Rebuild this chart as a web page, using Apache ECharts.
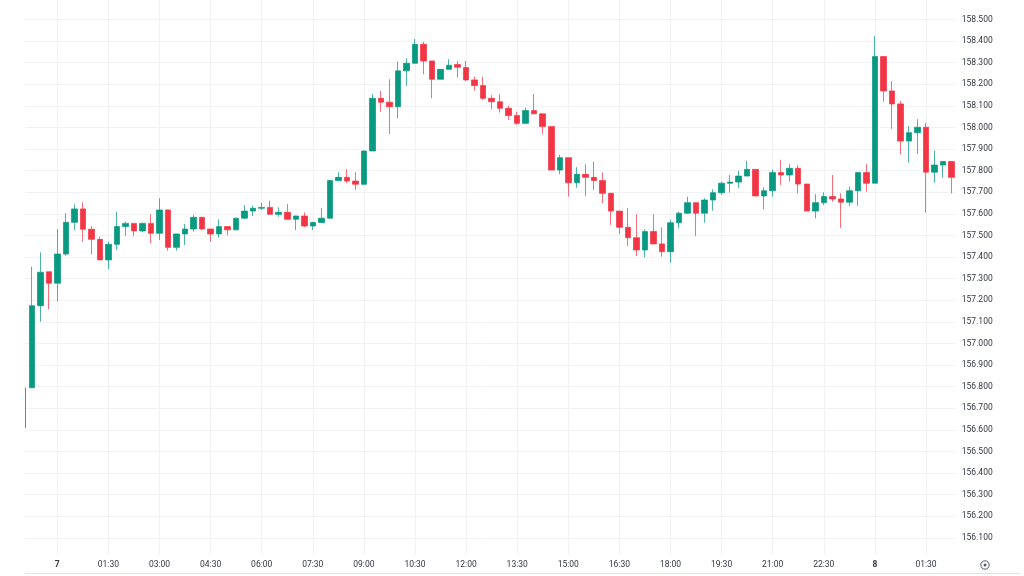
<!DOCTYPE html>
<html>
<head>
<meta charset="utf-8">
<style>
html,body{margin:0;padding:0;background:#fff;}
#chart{width:1024px;height:576px;}
</style>
<script src="https://cdn.jsdelivr.net/npm/echarts@6/dist/echarts.min.js"></script>
</head>
<body>
<div id="chart"></div>
<script>
// 15-minute candles, from 23:00 (day 6) to 02:15 (day 8)
const categories = [
  "23:00","23:15","23:30","23:45",
  "00:00","00:15","00:30","00:45","01:00","01:15","01:30","01:45","02:00","02:15","02:30","02:45",
  "03:00","03:15","03:30","03:45","04:00","04:15","04:30","04:45","05:00","05:15","05:30","05:45",
  "06:00","06:15","06:30","06:45","07:00","07:15","07:30","07:45","08:00","08:15","08:30","08:45",
  "09:00","09:15","09:30","09:45","10:00","10:15","10:30","10:45","11:00","11:15","11:30","11:45",
  "12:00","12:15","12:30","12:45","13:00","13:15","13:30","13:45","14:00","14:15","14:30","14:45",
  "15:00","15:15","15:30","15:45","16:00","16:15","16:30","16:45","17:00","17:15","17:30","17:45",
  "18:00","18:15","18:30","18:45","19:00","19:15","19:30","19:45","20:00","20:15","20:30","20:45",
  "21:00","21:15","21:30","21:45","22:00","22:15","22:30","22:45","23:00","23:15","23:30","23:45",
  "00:00","00:15","00:30","00:45","01:00","01:15","01:30","01:45","02:00","02:15"
];

const openP = [
  156.610,156.795,157.175,157.332,157.279,157.414,157.561,157.623,157.529,157.482,
  157.387,157.459,157.541,157.556,157.521,157.556,157.510,157.618,157.445,157.507,
  157.530,157.584,157.530,157.507,157.541,157.526,157.580,157.613,157.626,157.630,
  157.598,157.607,157.575,157.590,157.544,157.560,157.580,157.754,157.769,157.752,
  157.737,157.891,158.135,158.117,158.096,158.262,158.297,158.385,158.308,158.223,
  158.269,158.291,158.277,158.220,158.194,158.135,158.119,158.089,158.055,158.019,
  158.078,158.063,158.004,157.803,157.860,157.744,157.783,157.769,157.754,157.695,
  157.613,157.538,157.490,157.433,157.518,157.461,157.425,157.559,157.603,157.652,
  157.603,157.664,157.698,157.742,157.747,157.775,157.806,157.683,157.707,157.791,
  157.780,157.811,157.738,157.613,157.652,157.680,157.669,157.654,157.707,157.791,
  157.742,158.328,158.169,158.109,157.937,157.976,158.001,157.793,157.826,157.842
];
const closeP = [
  156.795,157.175,157.330,157.279,157.414,157.561,157.623,157.529,157.482,157.387,
  157.459,157.541,157.556,157.521,157.556,157.510,157.618,157.445,157.507,157.530,
  157.584,157.530,157.507,157.541,157.526,157.580,157.613,157.626,157.630,157.598,
  157.607,157.575,157.590,157.544,157.560,157.580,157.754,157.769,157.752,157.737,
  157.891,158.135,158.117,158.096,158.262,158.297,158.385,158.308,158.223,158.269,
  158.288,158.279,158.220,158.194,158.135,158.119,158.089,158.055,158.019,158.078,
  158.063,158.004,157.803,157.860,157.744,157.783,157.769,157.754,157.695,157.613,
  157.538,157.490,157.433,157.518,157.461,157.425,157.559,157.603,157.652,157.603,
  157.664,157.698,157.742,157.747,157.775,157.806,157.683,157.707,157.791,157.780,
  157.811,157.738,157.613,157.652,157.680,157.669,157.654,157.707,157.791,157.742,
  158.328,158.169,158.109,157.937,157.976,158.001,157.793,157.826,157.842,157.769
];
const lowP = [
  156.610,156.795,157.101,157.158,157.194,157.406,157.525,157.471,157.413,157.387,
  157.344,157.433,157.498,157.498,157.515,157.464,157.479,157.430,157.430,157.456,
  157.518,157.525,157.471,157.490,157.500,157.526,157.578,157.590,157.618,157.596,
  157.587,157.572,157.525,157.538,157.525,157.558,157.578,157.752,157.742,157.711,
  157.735,157.891,158.073,157.970,158.043,158.192,158.297,158.246,158.135,158.222,
  158.269,158.231,158.215,158.170,158.127,158.084,158.069,158.035,158.012,158.019,
  158.063,157.970,157.803,157.783,157.680,157.721,157.683,157.711,157.649,157.549,
  157.506,157.451,157.405,157.399,157.461,157.402,157.374,157.533,157.600,157.498,
  157.559,157.615,157.688,157.698,157.719,157.775,157.683,157.621,157.680,157.734,
  157.749,157.695,157.613,157.580,157.640,157.656,157.535,157.637,157.637,157.703,
  157.742,158.119,157.993,157.876,157.837,157.877,157.606,157.744,157.768,157.695
];
const highP = [
  156.795,157.356,157.422,157.332,157.529,157.603,157.644,157.654,157.544,157.494,
  157.471,157.610,157.564,157.556,157.560,157.598,157.672,157.620,157.507,157.553,
  157.595,157.584,157.530,157.575,157.541,157.582,157.641,157.638,157.652,157.661,
  157.630,157.646,157.592,157.607,157.564,157.626,157.756,157.793,157.807,157.793,
  157.893,158.154,158.169,158.223,158.305,158.320,158.410,158.397,158.308,158.270,
  158.316,158.308,158.308,158.235,158.235,158.150,158.154,158.101,158.073,158.092,
  158.155,158.063,158.004,157.873,157.860,157.816,157.830,157.842,157.791,157.698,
  157.613,157.626,157.598,157.529,157.598,157.538,157.572,157.610,157.680,157.652,
  157.672,157.714,157.749,157.780,157.800,157.845,157.806,157.723,157.806,157.850,
  157.831,157.826,157.740,157.691,157.700,157.780,157.695,157.726,157.791,157.830,
  158.424,158.330,158.215,158.123,158.007,158.038,158.022,157.893,157.842,157.842
];

// x-axis tick labels and the candle they sit on
const xTickIndex = [4,10,16,22,28,34,40,46,52,58,64,70,76,82,88,94,100,106];
const xTickText  = ["7","01:30","03:00","04:30","06:00","07:30","09:00","10:30","12:00",
                    "13:30","15:00","16:30","18:00","19:30","21:00","22:30","8","01:30"];
const dayLabels = ["7","8"];

// visible price range of the pane
const yMin = 156.021;
const yMax = 158.590;

const UP = '#089981', DOWN = '#F23645';
const GRID = '#f0f2f5';
const TEXT = '#333740';
const FONT = 'Roboto, "Liberation Sans", sans-serif';

const ohlc = openP.map((o, i) => [o, closeP[i], lowP[i], highP[i]]);

const chart = echarts.init(document.getElementById('chart'), null, {renderer: 'canvas'});
chart.setOption({
  animation: false,
  backgroundColor: '#ffffff',
  grid: { left: 18.98, right: 68.2, top: 0, bottom: 21, containLabel: false },
  xAxis: {
    type: 'category',
    data: categories,
    boundaryGap: true,
    axisLine: { show: false },
    axisTick: { show: false },
    splitLine: { show: false },
    axisLabel: {
      interval: function (idx) { return xTickIndex.indexOf(idx) >= 0; },
      formatter: function (val, idx) {
        const k = xTickIndex.indexOf(idx);
        if (k < 0) return '';
        const t = xTickText[k];
        return dayLabels.indexOf(t) >= 0 ? '{d|' + t + '}' : t;
      },
      margin: 5,
      color: TEXT,
      fontSize: 8.5,
      fontFamily: FONT,
      rich: { d: { fontWeight: 'bold', fontSize: 8.5, color: TEXT, fontFamily: FONT } }
    }
  },
  yAxis: {
    type: 'value',
    position: 'right',
    min: yMin,
    max: yMax,
    minInterval: 0.1,
    maxInterval: 0.1,
    splitNumber: 26,
    scale: true,
    axisLine: { show: false },
    axisTick: { show: false },
    axisLabel: {
      formatter: function (v) { return v.toFixed(3); },
      showMinLabel: false,
      showMaxLabel: false,
      margin: 6,
      color: TEXT,
      fontSize: 8.5,
      fontFamily: FONT
    },
    splitLine: { show: true, showMinLine: false, showMaxLine: false, lineStyle: { color: GRID, width: 1 } }
  },
  series: [{
    type: 'candlestick',
    data: ohlc,
    barWidth: 6,
    itemStyle: {
      color: UP,
      color0: DOWN,
      borderColor: 'rgba(8,153,129,0.72)',
      borderColor0: 'rgba(242,54,69,0.72)',
      borderWidth: 1
    },
    markLine: {
      silent: true,
      z: 1,
      symbol: ['none', 'none'],
      label: { show: false },
      lineStyle: { color: GRID, width: 1, type: 'solid' },
      emphasis: { disabled: true },
      data: xTickIndex.map(function (i) { return { xAxis: i }; })
    }
  }],
  graphic: [
    { type: 'rect', z: 100, shape: { x: 0, y: 0, width: 25, height: 556 }, style: { fill: '#ffffff' } },
    { type: 'line', z: 100, shape: { x1: 25, y1: 573.5, x2: 1020, y2: 573.5 }, style: { stroke: '#e0e3eb', lineWidth: 1 } },
    { type: 'circle', z: 100, shape: { cx: 985, cy: 565, r: 4.2 }, style: { fill: 'none', stroke: '#555a66', lineWidth: 1 } },
    { type: 'circle', z: 100, shape: { cx: 985, cy: 565, r: 1.5 }, style: { fill: '#555a66' } }
  ]
});
</script>
</body>
</html>
